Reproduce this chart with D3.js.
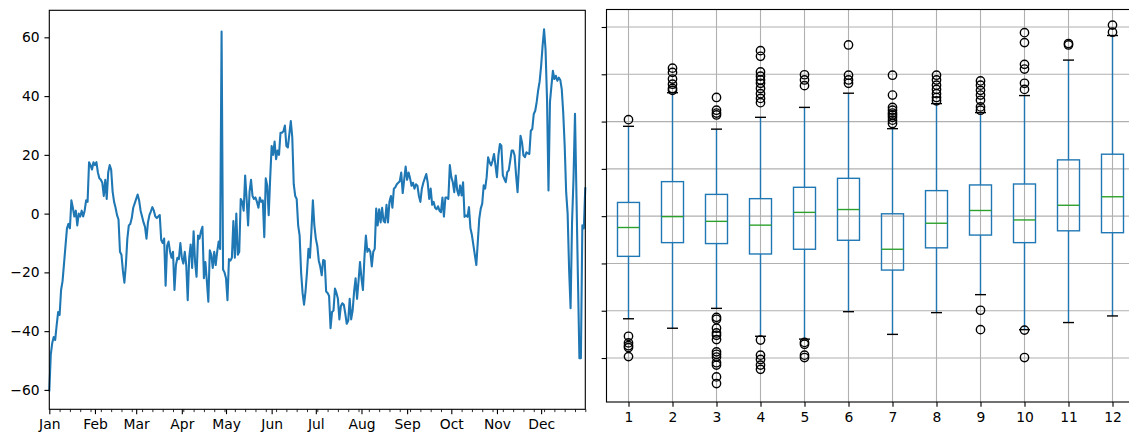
<!DOCTYPE html>
<html>
<head>
<meta charset="utf-8">
<script src="https://cdn.jsdelivr.net/npm/d3@7"></script>
<style>
  html, body { margin: 0; padding: 0; background: #ffffff; }
  svg { display: block; font-family: "DejaVu Sans", sans-serif; }
</style>
</head>
<body>
<svg id="chart" width="1129" height="436"></svg>
<script>
// ---- daily series (one value per day, starting on the first of January) ----
const seriesStart = "2018-01-01";
const dailyValues = [
  -60.5, -48, -44, -42, -43, -38, -33.5, -34.5, -26, -23,
  -17, -11, -5, -3.5, -5, 4.5, 2, -1, 1, -4,
  0, -1, 1, -1, 1, 4.5, 4, 17.5, 16.5, 15,
  17.5, 16.5, 17.5, 14, 12, 11.5, 10.5, 6, 11.5, 5,
  14, 16.5, 15, 7.5, 4, 2, -0.5, -2, -13, -14,
  -19.5, -23.5, -17.5, -8.5, -4, -3.5, -1.5, 2, 3.5, 5,
  6.5, 4.5, 1, -1, -3, -4.5, -8.5, -3, -0.5, 0.8,
  2.2, 1, -1, -1.5, -1, -0.5, -9, -10, -8.5, -24.5,
  -11, -9.5, -13, -15, -13, -26, -17.5, -15, -15.5, -10,
  -15, -17, -13, -17.5, -29.5, -15, -10.5, -18.5, -6, -16.5,
  -21.5, -7.5, -8.5, -6, -4.5, -22, -16.5, -23, -30, -12.5,
  -14, -18.5, -13, -17.5, -13, -9.5, -12, 62, -19, -20,
  -22, -29.5, -15.5, -16, -15, -2.5, -15, 0, -14, -13,
  5, 4, 1, 13, 5, -4, 7.5, 11.5, 6, 5,
  5.5, 4, 2, 5.5, 4, 4.5, -8, 12, 9.5, -0.5,
  12, 23, 20, 24.5, 18.5, 21.5, 20, 27.5, 27.5, 28,
  30, 23, 22.5, 27, 31.5, 26, 10, 6, 5, -4,
  -7.5, -20, -27, -31, -26.5, -20, -12, -15, -6, 4.5,
  -4, -8.5, -11, -16, -18, -21, -15.8, -16, -26.5, -27,
  -28, -39, -33.5, -33, -25.5, -27, -29, -36, -31.5, -30.5,
  -31, -34, -37.5, -36.5, -29, -36, -33, -26.5, -22, -29,
  -23, -16.5, -22, -26, -15, -7.5, -13, -12, -13, -18,
  -13, -12, 1.7, -4, 1.5, -3, 2, -2.5, -3, 3,
  -3, 4, 6, 2, 8.5, 9, 10, 10.5, 11, 14,
  7, 11.5, 16, 11.5, 14, 12, 9.5, 10.5, 8.5, 10,
  9.5, 6, 4, 8.5, 10.5, 12, 13.5, 10.5, 5, 8.5,
  3, 4, 2, 1.5, 2.5, 1, 0.5, 5.5, -1, 5.5,
  5.5, 5, 16.5, 12.5, 10.7, 7.3, 13, 8, 6.2, 9.6,
  6.2, 10.7, -1.1, -0.6, -1.1, 2.2, -5, -7.3, -10.7, -14.1,
  -17.5, -9.6, -1.7, 1.7, 3.4, 9.6, 8.5, 12.4, 19.2, 17.5,
  16.4, 18, 20.3, 16.4, 12.4, 19.8, 23.7, 23.1, 13, 11.8,
  10.7, 14.1, 14.7, 18, 21.5, 21.5, 19.8, 13, 7.3, 16.4,
  26.5, 24.3, 19.8, 19.2, 20.9, 20.5, 20.3, 28.2, 28.8, 33.9,
  35, 38, 42, 45, 50.3, 57.1, 62.7, 55.9, 39, 7.9,
  37.9, 43.5, 48.6, 45.8, 46.9, 45.2, 46.3, 45.5, 42.4, 34.4,
  23.1, 7.3, 0, -19, -32.2, -3, 12, 34, 6, -22,
  -49.2, -49.2, -4, -5, 9
];
const lineYTicks = [-60, -40, -20, 0, 20, 40, 60];

// ---- monthly box summaries ----
const boxMonths   = [1, 2, 3, 4, 5, 6, 7, 8, 9, 10, 11, 12];
const boxQ1       = [-8.5, -5.6, -5.8, -8.0, -7.0, -5.1, -11.4, -6.7, -4.0, -5.6, -3.1, -3.5];
const boxMedian   = [-2.4, -0.1, -1.1, -1.9, 0.8, 1.4, -7.0, -1.5, 1.2, -0.8, 2.3, 4.1];
const boxQ3       = [2.9, 7.3, 4.6, 3.7, 6.1, 8.0, 0.5, 5.4, 6.6, 6.8, 11.9, 13.1];
const whiskerLow  = [-21.7, -23.7, -19.5, -25.4, -26.0, -20.2, -25.0, -20.4, -16.6, -24.0, -22.5, -21.1];
const whiskerHigh = [19.0, 26.1, 18.4, 20.9, 23.0, 26.0, 18.5, 23.8, 21.9, 25.5, 33.0, 38.2];
const fliers = [
  [20.4, -25.4, -26.8, -27.4, -27.8, -29.7],
  [31.3, 30.4, 29.0, 27.9, 27.0, 26.6],
  [25.1, 22.4, 21.8, 21.4, -21.4, -21.8, -23.7, -24.7, -25.2, -26.1, -28.7, -29.2, -29.8, -31.0, -31.5, -34.0, -35.4],
  [35.0, 33.8, 30.5, 29.6, 28.8, 28.1, 27.0, 25.9, 24.9, 24.0, -26.2, -29.4, -30.3, -31.5, -32.4],
  [29.9, 28.8, 27.6, -26.7, -27.1, -29.4, -29.9],
  [36.2, 29.8, 28.8, 28.1],
  [29.8, 25.6, 23.0, 22.4, 21.8, 21.4, 20.9, 20.3, 19.6],
  [29.8, 28.8, 27.7, 26.8, 25.9, 25.1, 24.4],
  [28.6, 27.7, 26.6, 25.6, 24.5, 23.1, 22.4, -19.9, -24.0],
  [38.8, 36.7, 32.1, 31.1, 28.1, 26.8, -24.1, -29.9],
  [36.5, 36.2],
  [40.4, 38.9]
];
const boxYTicks = [-30, -20, -10, 0, 10, 20, 30, 40];

// ---- styling (matplotlib-like, 100 dpi) ----
const PT = 100 / 72;
const C0 = "#1f77b4", C2 = "#2ca02c", GRID = "#b0b0b0";
const FONT = 10 * PT;
const TICK = 3.5 * PT, MINOR_TICK = 2 * PT, PAD = 3.5 * PT;

const svg = d3.select("#chart");

function styleAxis(g) {
  g.select(".domain").remove();
  g.selectAll(".tick line").attr("stroke", "#000").attr("stroke-width", 0.8 * PT);
  g.selectAll(".tick text").attr("fill", "#000").attr("font-size", FONT)
    .attr("font-family", "DejaVu Sans, sans-serif");
}

// ================= left panel: daily line =================
const L = { left: 49.3, right: 585.3, top: 10.3, bottom: 409.3 };
const parseDay = d3.utcParse("%Y-%m-%d");
const t0 = parseDay(seriesStart);
const dates = dailyValues.map((_, i) => d3.utcDay.offset(t0, i));
const tEnd = dates[dates.length - 1];

const xL = d3.scaleUtc().domain([t0, tEnd]).range([L.left, L.right]);
const yL = d3.scaleLinear().domain([-66.6, 69.2]).range([L.bottom, L.top]);

const lineGen = d3.line()
  .x((d, i) => xL(dates[i]))
  .y(d => yL(d));

svg.append("path")
  .datum(dailyValues)
  .attr("d", lineGen)
  .attr("fill", "none")
  .attr("stroke", C0)
  .attr("stroke-width", 1.5 * PT)
  .attr("stroke-linejoin", "round");

const monthTicks = d3.utcMonth.range(t0, d3.utcDay.offset(tEnd, 1));
const weekTicks = d3.utcMonday.range(t0, d3.utcDay.offset(tEnd, 1))
  .filter(d => d.getUTCDate() !== 1);

svg.append("g")
  .attr("transform", `translate(0,${L.bottom})`)
  .call(d3.axisBottom(xL).tickValues(weekTicks).tickFormat("").tickSize(MINOR_TICK))
  .call(styleAxis)
  .call(g => g.selectAll(".tick line").attr("stroke-width", 0.6 * PT));

svg.append("g")
  .attr("transform", `translate(0,${L.bottom})`)
  .call(d3.axisBottom(xL).tickValues(monthTicks).tickFormat(d3.utcFormat("%b"))
    .tickSize(TICK).tickPadding(PAD))
  .call(styleAxis);

svg.append("g")
  .attr("transform", `translate(${L.left},0)`)
  .call(d3.axisLeft(yL).tickValues(lineYTicks).tickSize(TICK).tickPadding(PAD)
    .tickFormat(d => d < 0 ? "\u2212" + Math.abs(d) : String(d)))
  .call(styleAxis);

svg.append("rect")
  .attr("x", L.left).attr("y", L.top)
  .attr("width", L.right - L.left).attr("height", L.bottom - L.top)
  .attr("fill", "none").attr("stroke", "#000").attr("stroke-width", 0.8 * PT);

// ================= right panel: monthly boxplots =================
const R = { left: 606.5, right: 1134.5, top: 9.5, bottom: 402 };
const xR = d3.scaleLinear().domain([0.5, 12.5]).range([R.left, R.right]);
const yR = d3.scaleLinear().domain([-39.3, 43.7]).range([R.bottom, R.top]);

const grid = svg.append("g");
grid.selectAll("line.h").data(boxYTicks).join("line")
  .attr("x1", R.left).attr("x2", R.right)
  .attr("y1", d => yR(d)).attr("y2", d => yR(d))
  .attr("stroke", GRID).attr("stroke-width", 0.8 * PT);
grid.selectAll("line.v").data(boxMonths).join("line")
  .attr("x1", d => xR(d)).attr("x2", d => xR(d))
  .attr("y1", R.top).attr("y2", R.bottom)
  .attr("stroke", GRID).attr("stroke-width", 0.8 * PT);

const boxes = svg.append("g").selectAll("g").data(boxMonths).join("g");
const lw = 1 * PT;

// whiskers
boxes.append("line")
  .attr("x1", d => xR(d)).attr("x2", d => xR(d))
  .attr("y1", (d, i) => yR(boxQ1[i])).attr("y2", (d, i) => yR(whiskerLow[i]))
  .attr("stroke", C0).attr("stroke-width", lw);
boxes.append("line")
  .attr("x1", d => xR(d)).attr("x2", d => xR(d))
  .attr("y1", (d, i) => yR(boxQ3[i])).attr("y2", (d, i) => yR(whiskerHigh[i]))
  .attr("stroke", C0).attr("stroke-width", lw);

// caps
boxes.append("line")
  .attr("x1", d => xR(d - 0.125)).attr("x2", d => xR(d + 0.125))
  .attr("y1", (d, i) => yR(whiskerLow[i])).attr("y2", (d, i) => yR(whiskerLow[i]))
  .attr("stroke", "#000").attr("stroke-width", lw);
boxes.append("line")
  .attr("x1", d => xR(d - 0.125)).attr("x2", d => xR(d + 0.125))
  .attr("y1", (d, i) => yR(whiskerHigh[i])).attr("y2", (d, i) => yR(whiskerHigh[i]))
  .attr("stroke", "#000").attr("stroke-width", lw);

// boxes
boxes.append("rect")
  .attr("x", d => xR(d - 0.25))
  .attr("width", d => xR(d + 0.25) - xR(d - 0.25))
  .attr("y", (d, i) => yR(boxQ3[i]))
  .attr("height", (d, i) => yR(boxQ1[i]) - yR(boxQ3[i]))
  .attr("fill", "none").attr("stroke", C0).attr("stroke-width", lw);

// medians
boxes.append("line")
  .attr("x1", d => xR(d - 0.25)).attr("x2", d => xR(d + 0.25))
  .attr("y1", (d, i) => yR(boxMedian[i])).attr("y2", (d, i) => yR(boxMedian[i]))
  .attr("stroke", C2).attr("stroke-width", lw);

// outliers
boxes.each(function (m, i) {
  d3.select(this).selectAll("circle").data(fliers[i]).join("circle")
    .attr("cx", xR(m)).attr("cy", v => yR(v))
    .attr("r", 3 * PT)
    .attr("fill", "none").attr("stroke", "#000").attr("stroke-width", lw);
});

svg.append("g")
  .attr("transform", `translate(0,${R.bottom})`)
  .call(d3.axisBottom(xR).tickValues(boxMonths).tickFormat(d3.format("d"))
    .tickSize(TICK).tickPadding(PAD))
  .call(styleAxis);

svg.append("g")
  .attr("transform", `translate(${R.left},0)`)
  .call(d3.axisLeft(yR).tickValues(boxYTicks).tickFormat("").tickSize(TICK))
  .call(styleAxis);

svg.append("rect")
  .attr("x", R.left).attr("y", R.top)
  .attr("width", R.right - R.left).attr("height", R.bottom - R.top)
  .attr("fill", "none").attr("stroke", "#000").attr("stroke-width", 0.8 * PT);
</script>
</body>
</html>
